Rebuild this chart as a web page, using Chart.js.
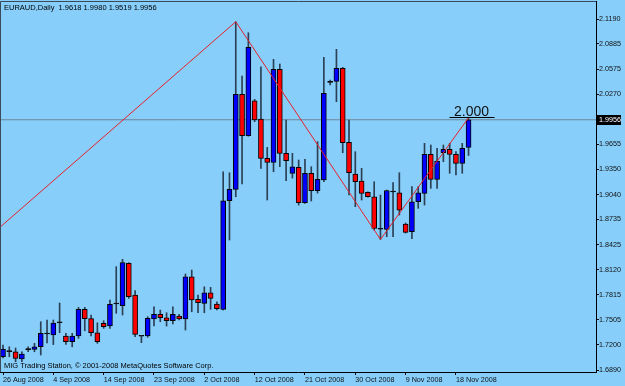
<!DOCTYPE html>
<html>
<head>
<meta charset="utf-8">
<script src="https://cdn.jsdelivr.net/npm/chart.js@4.4.0/dist/chart.umd.min.js"></script>
<style>
  html, body { margin: 0; padding: 0; background: #87cefa; }
  #wrap { width: 625px; height: 386px; }
</style>
</head>
<body>
<div id="wrap"><canvas id="chart" width="625" height="386"></canvas></div>
<script>
// EURAUD daily candles, 26 Aug 2008 .. 20 Nov 2008 (6 bars a week)
const opens = [
  1.7053, 1.7118, 1.7114, 1.7025, 1.7141, 1.7144, 1.7175, 1.7331, 1.7319, 1.7469,
  1.7307, 1.7237, 1.7307, 1.7634, 1.7519, 1.7347, 1.7462, 1.7429, 1.7699, 1.7678,
  1.8197, 1.7809, 1.7307, 1.7307, 1.7515, 1.7573, 1.7531, 1.7494, 1.7552, 1.7515,
  1.8033, 1.7756, 1.7707, 1.7837, 1.7699, 1.7634, 1.8964, 1.9104, 2.0268, 1.9760,
  2.0189, 1.9965, 1.9484, 1.9435, 2.0574, 1.9545, 1.9300, 1.9373, 1.8940, 1.9300,
  1.9087, 1.9218, 2.0415, 2.0427, 2.0586, 1.9680, 1.9291, 1.9206, 1.9067, 1.9013,
  1.8618, 1.8614, 1.9074, 1.9062, 1.8679, 1.8584, 1.8952, 1.9055, 1.9533, 1.9226,
  1.9552, 1.9594, 1.9533, 1.9422, 1.9618
];
const highs = [
  1.7196, 1.7175, 1.7160, 1.7114, 1.7175, 1.7217, 1.7482, 1.7503, 1.7503, 1.7711,
  1.7340, 1.7340, 1.7658, 1.7658, 1.7564, 1.7469, 1.7494, 1.7748, 1.8156, 1.8246,
  1.8205, 1.7862, 1.7310, 1.7543, 1.7665, 1.7625, 1.7592, 1.7665, 1.7573, 1.8066,
  1.8115, 1.7809, 1.7910, 1.7903, 1.7727, 1.9319, 1.9307, 2.1157, 2.0492, 2.1022,
  2.0206, 2.0606, 1.9618, 2.0696, 2.0639, 1.9953, 1.9545, 1.9463, 1.9471, 1.9381,
  1.9687, 2.0721, 2.0443, 2.0819, 2.0598, 1.9953, 1.9565, 1.9361, 1.9074, 1.9197,
  1.9034, 1.9095, 1.9185, 1.9307, 1.8691, 1.9136, 1.9136, 1.9667, 1.9647, 1.9606,
  1.9647, 1.9667, 1.9565, 1.9667, 1.9980
];
const lows = [
  1.7037, 1.7053, 1.6992, 1.6992, 1.7114, 1.7114, 1.7074, 1.7221, 1.7202, 1.7347,
  1.7205, 1.7175, 1.7278, 1.7371, 1.7307, 1.7217, 1.7401, 1.7401, 1.7585, 1.7564,
  1.7768, 1.7298, 1.7225, 1.7291, 1.7429, 1.7482, 1.7429, 1.7454, 1.7503, 1.7380,
  1.7604, 1.7592, 1.7592, 1.7634, 1.7625, 1.7625, 1.8483, 1.9013, 1.9169, 1.9755,
  1.9932, 1.9361, 1.8973, 1.9319, 1.9381, 1.9209, 1.9242, 1.8911, 1.8932, 1.8961,
  1.9058, 1.9197, 2.0382, 2.0177, 1.9552, 1.9034, 1.8891, 1.8973, 1.9007, 1.8605,
  1.8490, 1.8523, 1.8523, 1.8789, 1.8568, 1.8500, 1.8871, 1.8911, 1.9116, 1.9116,
  1.9442, 1.9300, 1.9279, 1.9300, 1.9519
];
const closes = [
  1.7147, 1.7115, 1.7033, 1.7086, 1.7145, 1.7175, 1.7340, 1.7334, 1.7466, 1.7472,
  1.7237, 1.7307, 1.7634, 1.7519, 1.7347, 1.7237, 1.7420, 1.7695, 1.7702, 1.8205,
  1.7788, 1.7327, 1.7304, 1.7524, 1.7573, 1.7531, 1.7494, 1.7573, 1.7515, 1.8033,
  1.7748, 1.7715, 1.7837, 1.7768, 1.7641, 1.8964, 1.9104, 2.0268, 1.9760, 2.0843,
  1.9953, 1.9484, 1.9435, 2.0574, 1.9545, 1.9454, 1.9381, 1.8940, 1.9300, 1.9087,
  1.9226, 2.0280, 2.0418, 2.0586, 1.9675, 1.9307, 1.9197, 1.9055, 1.9013, 1.8626,
  1.8615, 1.9087, 1.9071, 1.8850, 1.8577, 1.8952, 1.9062, 1.9533, 1.9226, 1.9451,
  1.9594, 1.9533, 1.9422, 1.9606, 1.9956
];

const dateTickIdx = [0, 8, 16, 24, 32, 40, 48, 56, 64, 72];
const dateLabels = ['26 Aug 2008', '4 Sep 2008', '14 Sep 2008', '23 Sep 2008', '2 Oct 2008',
                    '12 Oct 2008', '21 Oct 2008', '30 Oct 2008', '9 Nov 2008', '18 Nov 2008'];
const priceTicks = [2.1190, 2.0885, 2.0575, 2.0270, 1.9655, 1.9350, 1.9040, 1.8735,
                    1.8425, 1.8120, 1.7815, 1.7505, 1.7200, 1.6890];

// zigzag indicator (bar index, price)
const zigzagIdx = [-0.48, 37, 60, 74];
const zigzagPrice = [1.8640, 2.1157, 1.8490, 1.9980];

const X_MIN = -0.477, X_MAX = 94.26;
const lastClose = closes[closes.length - 1];

const FONT = "'Liberation Sans', Arial, sans-serif";

function bodyColor(i) {
    const d = closes[i] - opens[i];
    if (Math.abs(d) <= 0.0004) return '#000000';
    return d > 0 ? '#0000ff' : '#ff0000';
}

const bodies = opens.map((o, i) => ({ x: i, y: [o, closes[i]] }));
const wicks = lows.map((l, i) => ({ x: i, y: [l, highs[i]] }));
const zigzag = zigzagIdx.map((x, i) => ({ x: x, y: zigzagPrice[i] }));
const bidLine = [{ x: X_MIN, y: lastClose }, { x: X_MAX, y: lastClose }];

const overlay = {
    id: 'overlay',
    afterDatasetsDraw(chart) {
        const ctx = chart.ctx;
        const xs = chart.scales.x, ys = chart.scales.y;
        const last = highs.length - 1;
        const cx = xs.getPixelForValue(last) + 3;
        const y = Math.round(ys.getPixelForValue(highs[last])) - 0.5;
        ctx.save();
        ctx.strokeStyle = '#000';
        ctx.lineWidth = 1;
        ctx.beginPath();
        ctx.moveTo(cx - 22, y);
        ctx.lineTo(cx + 23, y);
        ctx.stroke();
        ctx.fillStyle = '#111';
        ctx.font = '14px ' + FONT;
        ctx.textAlign = 'center';
        ctx.textBaseline = 'alphabetic';
        ctx.fillText('2.000', cx, y - 2);
        ctx.restore();
    },
    afterDraw(chart) {
        const ctx = chart.ctx;
        const area = chart.chartArea;
        const ys = chart.scales.y;
        ctx.save();
        // frame
        ctx.strokeStyle = '#3a4a5a';
        ctx.lineWidth = 1;
        ctx.beginPath();
        ctx.moveTo(0.5, area.bottom);
        ctx.lineTo(0.5, 1.5);
        ctx.lineTo(area.right, 1.5);
        ctx.stroke();
        // texts
        ctx.fillStyle = '#000';
        ctx.font = '7.5px ' + FONT;
        ctx.textBaseline = 'middle';
        ctx.textAlign = 'left';
        ctx.fillText('EURAUD,Daily  1.9618 1.9980 1.9519 1.9956', 4, 7.5);
        ctx.fillText('MIG Trading Station, \u00a9 2001-2008 MetaQuotes Software Corp.', 4, 366);
        // current price box
        const py = Math.round(ys.getPixelForValue(lastClose));
        ctx.fillStyle = '#000';
        ctx.fillRect(area.right + 1, py - 5, 24, 10);
        ctx.fillStyle = '#fff';
        ctx.font = '7.2px ' + FONT;
        ctx.fillText(lastClose.toFixed(4), area.right + 3, py + 0.5);
        ctx.restore();
    }
};

new Chart(document.getElementById('chart'), {
    type: 'bar',
    data: {
        datasets: [
            {
                type: 'line',
                data: zigzag,
                borderColor: '#e8202a',
                borderWidth: 1,
                pointRadius: 0,
                tension: 0,
                order: 0
            },
            {
                data: bodies,
                backgroundColor: opens.map((o, i) => bodyColor(i)),
                borderColor: '#000',
                borderWidth: 1,
                borderSkipped: false,
                barThickness: 5,
                minBarLength: 1,
                grouped: false,
                order: 1
            },
            {
                data: wicks,
                backgroundColor: '#2b3f55',
                borderWidth: 0,
                barThickness: 1,
                grouped: false,
                order: 2
            },
            {
                type: 'line',
                data: bidLine,
                borderColor: '#6f8499',
                borderWidth: 1,
                pointRadius: 0,
                order: 3
            }
        ]
    },
    options: {
        responsive: false,
        animation: false,
        layout: { padding: { top: 1, left: 0, right: 0, bottom: 0 } },
        plugins: {
            legend: { display: false },
            tooltip: { enabled: false }
        },
        scales: {
            x: {
                type: 'linear',
                position: 'bottom',
                offset: false,
                min: X_MIN,
                max: X_MAX,
                afterBuildTicks: s => { s.ticks = dateTickIdx.map(v => ({ value: v })); },
                afterFit: s => { s.height = 14; s.paddingLeft = 0; s.paddingRight = 0; },
                ticks: {
                    autoSkip: false,
                    maxRotation: 0,
                    align: 'start',
                    padding: 1,
                    color: '#111',
                    font: { family: FONT, size: 7.2 },
                    callback: (v, i) => dateLabels[i]
                },
                grid: { drawOnChartArea: false, offset: false, tickLength: 3, color: '#000' },
                border: { color: '#000' }
            },
            y: {
                type: 'linear',
                position: 'right',
                min: 1.6866,
                max: 2.1411,
                afterBuildTicks: s => { s.ticks = priceTicks.map(v => ({ value: v })); },
                afterFit: s => { s.width = 29; s.paddingTop = 0; s.paddingBottom = 0; },
                ticks: {
                    padding: 0,
                    color: '#111',
                    font: { family: FONT, size: 7.2 },
                    callback: v => v.toFixed(4)
                },
                grid: { drawOnChartArea: false, tickLength: 3, color: '#000' },
                border: { color: '#000' }
            }
        }
    },
    plugins: [overlay]
});
</script>
</body>
</html>
